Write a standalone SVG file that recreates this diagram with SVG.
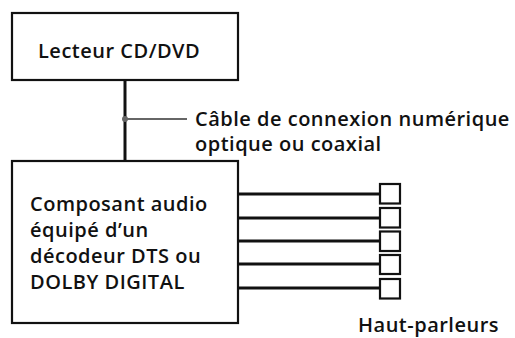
<svg xmlns="http://www.w3.org/2000/svg" width="515" height="338" viewBox="0 0 515 338">
<style>
.box{fill:#fff;stroke:#111;stroke-width:2.2}
.t{font-family:"Open Sans","Liberation Sans",sans-serif;font-weight:600;font-size:20px;letter-spacing:0.5px;fill:#111}
.w{stroke:#111;stroke-width:3;fill:none}
.spk{fill:#fff;stroke:#111;stroke-width:2.2}
</style>
<rect width="515" height="338" fill="#fff"/>
<g id="connectors">
<line class="w" x1="125" y1="80" x2="125" y2="161"/>
<line x1="125" y1="119" x2="187" y2="119" stroke="#666" stroke-width="2"/>
<circle cx="125" cy="119" r="3" fill="#666"/>
<line class="w" x1="238" y1="194" x2="380" y2="194"/>
<line class="w" x1="238" y1="218" x2="380" y2="218"/>
<line class="w" x1="238" y1="241" x2="380" y2="241"/>
<line class="w" x1="238" y1="264" x2="380" y2="264"/>
<line class="w" x1="238" y1="288" x2="380" y2="288"/>
</g>
<g id="player">
<rect class="box" x="12" y="13" width="226" height="67"/>
<text class="t" x="38" y="58">Lecteur CD/DVD</text>
</g>
<g id="cable-label">
<text class="t" x="195" y="126">Câble de connexion numérique</text>
<text class="t" x="195" y="151">optique ou coaxial</text>
</g>
<g id="decoder">
<rect class="box" x="12" y="161" width="226" height="162"/>
<text class="t" x="30" y="211">Composant audio</text>
<text class="t" x="30" y="237">équipé d’un</text>
<text class="t" x="30" y="263">décodeur DTS ou</text>
<text class="t" x="30" y="289">DOLBY DIGITAL</text>
</g>
<g id="speakers">
<rect class="spk" x="380" y="184" width="20" height="19.5"/>
<rect class="spk" x="380" y="208" width="20" height="19.5"/>
<rect class="spk" x="380" y="231.5" width="20" height="19.5"/>
<rect class="spk" x="380" y="255" width="20" height="19"/>
<rect class="spk" x="380" y="279" width="20" height="19.5"/>
<text class="t" x="358" y="332">Haut-parleurs</text>
</g>
</svg>
